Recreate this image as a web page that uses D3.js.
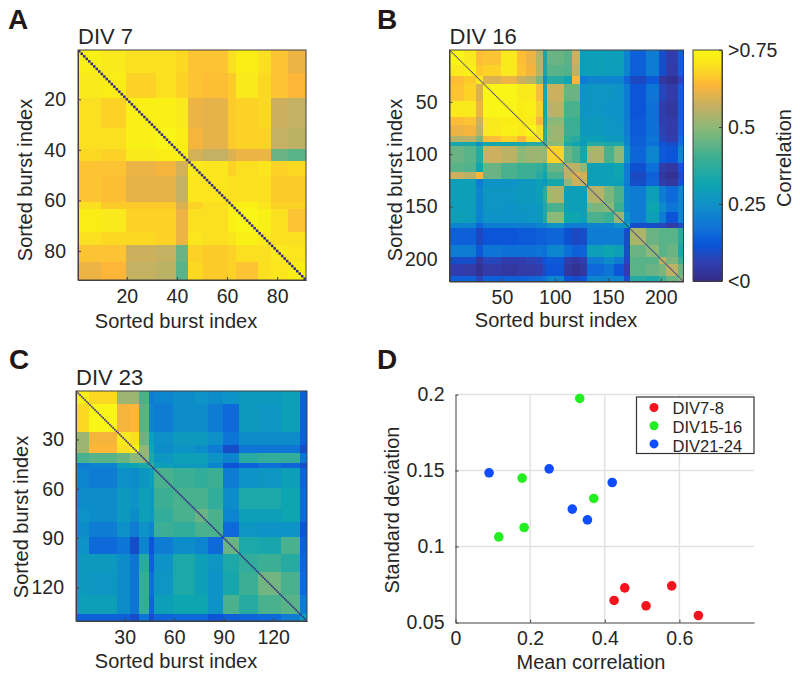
<!DOCTYPE html>
<html>
<head>
<meta charset="utf-8">
<style>
  html, body { margin: 0; background: #fff; }
  text { font-family: "Liberation Sans", Arial, sans-serif; fill: #262626; }
  .tick text { font-size: 19.5px; }
  .domain { stroke: #404040; }
  .tick line { stroke: #404040; }
</style>
</head>
<body>
<svg id="fig" width="800" height="679"></svg>
<script src="https://cdnjs.cloudflare.com/ajax/libs/d3/7.8.5/d3.min.js"></script>
<script>
'use strict'

// heat map blocks: last burst index of each block, upper triangle of correlations per block
const sizeA = 91
const blocksA = [9, 19, 31, 39, 44, 50, 60, 63, 72, 77, 84, 91]
const valuesA = [
  [.74, .72, .70, .70, .69, .66, .66, .70, .73, .70, .66, .62],
  [.73, .68, .70, .68, .66, .65, .67, .72, .69, .66, .64],
  [.74, .74, .72, .62, .61, .67, .68, .69, .58, .57],
  [.75, .73, .63, .61, .67, .68, .68, .57, .56],
  [.74, .59, .57, .60, .62, .62, .46, .44],
  [.72, .71, .68, .70, .71, .68, .69],
  [.71, .70, .70, .70, .67, .67],
  [.74, .74, .71, .68, .68],
  [.75, .74, .70, .66],
  [.72, .70, .70],
  [.72, .71],
  [.73]
]

const sizeB = 221
const blocksB = [14, 25, 32, 49, 64, 72, 82, 88, 92, 108, 116, 123, 130, 146, 155, 165, 170, 186, 198, 204, 216, 221]
const valuesB = [
  [.75, .72, .65, .66, .72, .65, .62, .55, .33, .46, .44, .58, .30, .30, .29, .30, .22, .14, .20, .10, .06, .14],
  [.74, .67, .68, .72, .66, .63, .56, .33, .44, .43, .56, .30, .30, .29, .29, .22, .14, .20, .10, .05, .14],
  [.72, .60, .62, .58, .56, .48, .25, .36, .32, .64, .20, .22, .22, .22, .15, .09, .13, .04, .02, .08],
  [.75, .75, .72, .72, .65, .33, .58, .46, .46, .26, .27, .27, .26, .20, .12, .18, .08, .05, .14],
  [.75, .73, .74, .68, .33, .56, .42, .42, .26, .27, .26, .26, .20, .12, .17, .06, .04, .14],
  [.73, .72, .64, .34, .50, .40, .40, .27, .28, .27, .26, .20, .13, .17, .06, .05, .14],
  [.75, .70, .36, .52, .40, .40, .28, .28, .27, .27, .20, .13, .17, .07, .05, .15],
  [.72, .36, .52, .38, .36, .30, .30, .28, .28, .22, .14, .18, .08, .06, .16],
  [.40, .50, .34, .32, .28, .36, .34, .34, .22, .14, .17, .12, .10, .17],
  [.68, .46, .42, .33, .54, .42, .50, .26, .15, .22, .13, .12, .22],
  [.56, .56, .50, .30, .30, .32, .20, .11, .17, .06, .04, .12],
  [.60, .58, .30, .30, .32, .20, .09, .14, .04, .02, .10],
  [.56, .30, .30, .30, .20, .10, .15, .06, .04, .12],
  [.55, .48, .42, .22, .20, .30, .20, .16, .22],
  [.50, .40, .22, .20, .32, .24, .18, .22],
  [.52, .26, .20, .30, .20, .12, .22],
  [.30, .10, .10, .08, .05, .10],
  [.54, .46, .44, .44, .36],
  [.50, .44, .46, .34],
  [.56, .48, .40],
  [.56, .46],
  [.50]
]

const sizeC = 140
const blocksC = [8, 25, 33, 38, 44, 47, 59, 72, 80, 89, 99, 110, 124, 136, 140]
const valuesC = [
  [.74, .69, .52, .52, .42, .20, .22, .24, .26, .24, .26, .28, .28, .30, .14],
  [.75, .63, .64, .44, .22, .20, .24, .24, .20, .16, .28, .27, .30, .14],
  [.72, .70, .46, .30, .25, .28, .28, .25, .18, .24, .24, .24, .14],
  [.74, .50, .32, .24, .26, .24, .20, .10, .18, .18, .18, .10],
  [.50, .34, .27, .30, .30, .26, .22, .36, .38, .38, .18],
  [.40, .30, .28, .28, .22, .12, .14, .17, .15, .10],
  [.42, .40, .38, .40, .20, .26, .27, .30, .15],
  [.42, .42, .38, .24, .34, .34, .32, .16],
  [.46, .42, .22, .30, .30, .32, .16],
  [.42, .16, .27, .26, .26, .12],
  [.46, .34, .33, .42, .14],
  [.38, .40, .36, .15],
  [.47, .42, .16],
  [.44, .20],
  [.30]
]

const ticksA = [20, 40, 60, 80]
const ticksB = [50, 100, 150, 200]
const ticksC = [30, 60, 90, 120]

// colour bar
const barTicks = [0, 0.25, 0.5, 0.75]
const barLabels = ['<0', '0.25', '0.5', '>0.75']
const colorStops = [0, .065, .12, .17, .25, .32, .41, .5, .575, .64, .705, .75]
const colorValues = ['#352a87', '#3040b0', '#0a55d8', '#1070d8', '#1090c8', '#10a5b0', '#40b090', '#8cb878', '#c8b060', '#fdb638', '#fbe31e', '#f9f514']

// scatter, mean correlation and standard deviation per culture
const groupNames = ['DIV7-8', 'DIV15-16', 'DIV21-24']
const groupColors = ['#f5141e', '#22ee22', '#0f4dff']
const meanCorr = [
  [.425, .4536, .5107, .5795, .651],
  [.333, .1786, .3705, .184, .116],
  [.09, .251, .42, .313, .3536]
]
const stdDev = [
  [.0645, .0728, .061, .0741, .0546],
  [.1974, .145, .1316, .1125, .1063],
  [.1485, .1511, .1421, .1246, .1175]
]
const scatterXTicks = [0, 0.2, 0.4, 0.6]
const scatterYTicks = [0.05, 0.1, 0.15, 0.2]

const svg = d3.select('#fig')
const color = d3.scaleLinear().domain(colorStops).range(colorValues).clamp(true)

svg.append('defs').append('filter').attr('id', 'soft')
  .append('feGaussianBlur').attr('stdDeviation', 0.7)

function panelLabel (label, x, y) {
  svg.append('text').attr('x', x).attr('y', y)
    .style('font-size', '28px').style('font-weight', 'bold').style('fill', '#231815')
    .text(label)
}

function sideText (str, x, y) {
  svg.append('text').attr('transform', `translate(${x}, ${y}) rotate(-90)`)
    .attr('text-anchor', 'middle').style('font-size', '20px').text(str)
}

function bottomText (str, x, y) {
  svg.append('text').attr('x', x).attr('y', y)
    .attr('text-anchor', 'middle').style('font-size', '20px').text(str)
}

function heatmap (o) {
  const x = d3.scaleLinear().domain([0.5, o.size + 0.5]).range([o.left, o.right])
  const y = d3.scaleLinear().domain([0.5, o.size + 0.5]).range([o.top, o.bottom])
  const starts = o.blocks.map((d, i) => (i ? o.blocks[i - 1] + 1 : 1))

  const cells = []
  o.values.forEach((row, i) => {
    row.forEach((v, k) => {
      const j = i + k
      cells.push({ r: i, c: j, v })
      if (j !== i) cells.push({ r: j, c: i, v })
    })
  })

  const clipId = `clip-${o.title.replace(' ', '')}`
  svg.select('defs').append('clipPath').attr('id', clipId)
    .append('rect').attr('x', o.left).attr('y', o.top)
    .attr('width', o.right - o.left).attr('height', o.bottom - o.top)

  const g = svg.append('g').attr('clip-path', `url(#${clipId})`)
  g.append('g').attr('filter', 'url(#soft)')
    .selectAll('rect').data(cells).join('rect')
    .attr('shape-rendering', 'crispEdges')
    .attr('x', (d) => x(starts[d.c] - 0.5))
    .attr('y', (d) => y(starts[d.r] - 0.5))
    .attr('width', (d) => x(o.blocks[d.c] + 0.5) - x(starts[d.c] - 0.5))
    .attr('height', (d) => y(o.blocks[d.r] + 0.5) - y(starts[d.r] - 0.5))
    .attr('fill', (d) => color(d.v))

  g.append('g').selectAll('rect').data(d3.range(1, o.size + 1)).join('rect')
    .attr('x', (d) => x(d - 0.5))
    .attr('y', (d) => y(d - 0.5))
    .attr('width', (d) => x(d + 0.5) - x(d - 0.5))
    .attr('height', (d) => y(d + 0.5) - y(d - 0.5))
    .attr('fill', color(0))

  svg.append('g').attr('transform', `translate(0, ${o.bottom})`)
    .call(d3.axisBottom(x).tickValues(o.ticks).tickSize(-3).tickPadding(9).tickSizeOuter(0))
  svg.append('g').attr('transform', `translate(${o.left}, 0)`)
    .call(d3.axisLeft(y).tickValues(o.ticks).tickSize(-3).tickPadding(12).tickSizeOuter(0))
  svg.append('rect').attr('x', o.left).attr('y', o.top)
    .attr('width', o.right - o.left).attr('height', o.bottom - o.top)
    .attr('fill', 'none').attr('stroke', '#404040')

  svg.append('text').attr('x', o.left).attr('y', o.top - 6)
    .style('font-size', '22px').text(o.title)
}

heatmap({ size: sizeA, blocks: blocksA, values: valuesA, ticks: ticksA, title: 'DIV 7', left: 78, right: 306, top: 50, bottom: 280 })
heatmap({ size: sizeB, blocks: blocksB, values: valuesB, ticks: ticksB, title: 'DIV 16', left: 449.5, right: 683.5, top: 50, bottom: 281.5 })
heatmap({ size: sizeC, blocks: blocksC, values: valuesC, ticks: ticksC, title: 'DIV 23', left: 76, right: 307, top: 391, bottom: 621 })

panelLabel('A', 8, 29)
panelLabel('B', 377, 29)
panelLabel('C', 9, 369)
panelLabel('D', 377, 369)

sideText('Sorted burst index', 32, 180)
bottomText('Sorted burst index', 176, 328)
sideText('Sorted burst index', 402, 180)
bottomText('Sorted burst index', 556, 327)
sideText('Sorted burst index', 28, 517)
bottomText('Sorted burst index', 176, 668)

// colour bar
const barY = d3.scaleLinear().domain([0, 0.75]).range([281, 50])
svg.append('g').attr('shape-rendering', 'crispEdges')
  .selectAll('rect').data(d3.range(0, 0.75, 0.005)).join('rect')
  .attr('x', 693)
  .attr('y', (d) => barY(d + 0.005))
  .attr('width', 29)
  .attr('height', (d) => barY(d) - barY(d + 0.005) + 1)
  .attr('fill', (d) => color(d + 0.0025))
svg.append('g').attr('transform', 'translate(722, 0)')
  .call(d3.axisRight(barY).tickValues(barTicks).tickFormat((d, i) => barLabels[i]).tickSize(-3).tickPadding(6).tickSizeOuter(0))
svg.append('rect').attr('x', 693).attr('y', 50).attr('width', 29).attr('height', 231)
  .attr('fill', 'none').attr('stroke', '#404040')
sideText('Correlation', 791, 158)

// scatter
const sx = d3.scaleLinear().domain([0, 0.8]).range([455.5, 754])
const sy = d3.scaleLinear().domain([0.05, 0.2]).range([622.5, 394.5])

const grid = svg.append('g').attr('stroke', '#e2e2e2').attr('stroke-width', 1.5)
grid.selectAll('line.gx').data(scatterXTicks.slice(1)).join('line').attr('class', 'gx')
  .attr('x1', (d) => sx(d)).attr('x2', (d) => sx(d)).attr('y1', sy(0.05)).attr('y2', sy(0.2))
grid.selectAll('line.gy').data(scatterYTicks.slice(1)).join('line').attr('class', 'gy')
  .attr('x1', sx(0)).attr('x2', sx(0.8)).attr('y1', (d) => sy(d)).attr('y2', (d) => sy(d))

svg.append('g').attr('transform', `translate(0, ${sy(0.05)})`)
  .call(d3.axisBottom(sx).tickValues(scatterXTicks).tickFormat(d3.format('~g')).tickSize(-3).tickPadding(9).tickSizeOuter(0))
svg.append('g').attr('transform', `translate(${sx(0)}, 0)`)
  .call(d3.axisLeft(sy).tickValues(scatterYTicks).tickFormat(d3.format('~g')).tickSize(-3).tickPadding(11).tickSizeOuter(0))

groupNames.forEach((name, i) => {
  svg.append('g').selectAll('circle').data(meanCorr[i]).join('circle')
    .attr('cx', (d) => sx(d))
    .attr('cy', (d, k) => sy(stdDev[i][k]))
    .attr('r', 4.8)
    .attr('fill', groupColors[i])
})

sideText('Standard deviation', 399, 510)
bottomText('Mean correlation', 591, 669)

// legend
const legend = svg.append('g').attr('transform', 'translate(636.5, 397)')
legend.append('rect').attr('width', 117.5).attr('height', 56.5)
  .attr('fill', '#fff').attr('stroke', '#333').attr('stroke-width', 1.2)
groupNames.forEach((name, i) => {
  legend.append('circle').attr('cx', 17.5).attr('cy', 10.5 + i * 18.2).attr('r', 4.5).attr('fill', groupColors[i])
  legend.append('text').attr('x', 36).attr('y', 16.5 + i * 19).style('font-size', '16.5px').text(name)
})
</script>
</body>
</html>
